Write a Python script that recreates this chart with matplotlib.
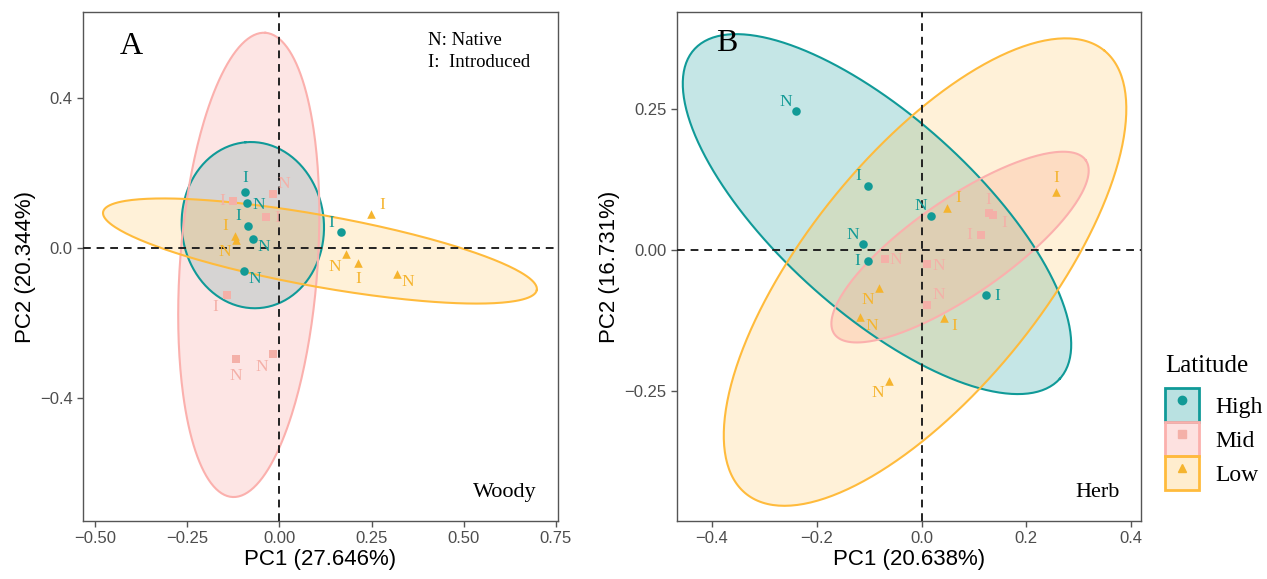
import numpy as np
import matplotlib
matplotlib.use("Agg")
import matplotlib.pyplot as plt
from matplotlib.patches import Patch
from matplotlib.lines import Line2D

# ---- data: panel A (Woody) ----
a_high_x = [-0.093, -0.087, -0.085, -0.072, -0.096, 0.166]
a_high_y = [0.149, 0.119, 0.059, 0.024, -0.061, 0.042]
a_high_lab = ['I', 'N', 'I', 'N', 'N', 'I']
a_mid_x = [-0.125, -0.017, -0.036, -0.143, -0.117, -0.017]
a_mid_y = [0.125, 0.145, 0.083, -0.125, -0.297, -0.283]
a_mid_lab = ['I', 'N', 'I', 'I', 'N', 'N']
a_low_x = [-0.120, -0.118, 0.248, 0.180, 0.214, 0.319]
a_low_y = [0.032, 0.022, 0.090, -0.017, -0.039, -0.068]
a_low_lab = ['I', 'N', 'I', 'N', 'I', 'N']

# ---- data: panel B (Herb) ----
b_high_x = [-0.240, -0.103, 0.018, -0.112, -0.102, 0.123]
b_high_y = [0.246, 0.114, 0.061, 0.010, -0.020, -0.079]
b_high_lab = ['N', 'I', 'N', 'N', 'I', 'I']
b_mid_x = [0.128, 0.137, 0.113, -0.070, 0.011, 0.011]
b_mid_y = [0.065, 0.063, 0.027, -0.016, -0.025, -0.097]
b_mid_lab = ['I', 'I', 'I', 'N', 'N', 'N']
b_low_x = [0.257, 0.048, -0.081, -0.117, 0.042, -0.063]
b_low_y = [0.103, 0.075, -0.067, -0.119, -0.120, -0.232]
b_low_lab = ['I', 'I', 'N', 'N', 'I', 'N']

# ellipses: centre, first semi-axis vector, second semi-axis vector (data units)
a_ell_high = [(-0.072, 0.061), (-0.020, 0.221), (0.192, 0.017)]
a_ell_mid = [(-0.083, -0.045), (0.045, 0.619), (0.186, -0.013)]
a_ell_low = [(0.110, -0.008), (0.588, -0.104), (-0.017, -0.094)]
b_ell_high = [(-0.085, 0.0638), (0.349, -0.292), (-0.125, -0.129)]
b_ell_mid = [(0.0735, 0.0053), (0.240, 0.154), (0.052, -0.070)]
b_ell_low = [(0.0067, -0.039), (0.342, 0.393), (0.175, -0.132)]

groups = ['High', 'Mid', 'Low']
pc_a = ['PC1 (27.646%)', 'PC2 (20.344%)']
pc_b = ['PC1 (20.638%)', 'PC2 (16.731%)']

# label placement codes (layout only)
a_high_pos = ['u', 'r', 'ul', 'dr', 'dr', 'ul']
a_mid_pos = ['l', 'ur', 'r', 'dl', 'd', 'dl']
a_low_pos = ['ul', 'dl', 'ur', 'dl', 'd', 'dr']
b_high_pos = ['ul', 'ul', 'ul', 'ul', 'l', 'r']
b_mid_pos = ['u', 'dr', 'l', 'r', 'r', 'ur']
b_low_pos = ['u', 'ur', 'dl', 'dr', 'dr', 'dl']

offs = {'u': (0, 10), 'd': (0, -12), 'l': (-8, 0), 'r': (8, -1),
        'ul': (-7, 7), 'ur': (8, 7), 'dl': (-8, -9), 'dr': (8, -6)}

edge = {'High': '#109a98', 'Mid': '#fbb0ad', 'Low': '#ffbb3c'}
pt_col = {'High': '#129a96', 'Mid': '#f4b0a8', 'Low': '#f5b42e'}
fill_alpha = {'High': 0.24, 'Mid': 0.32, 'Low': 0.2}
marker = {'High': 'o', 'Mid': 's', 'Low': '^'}

serif = 'Liberation Serif'
sans = 'Liberation Sans'


def draw_ellipse(ax, ell, g):
    (cx, cy), (ux, uy), (vx, vy) = ell
    t = np.linspace(0, 2 * np.pi, 300)
    x = cx + ux * np.cos(t) + vx * np.sin(t)
    y = cy + uy * np.cos(t) + vy * np.sin(t)
    ax.fill(x, y, facecolor=edge[g], alpha=fill_alpha[g], lw=0)
    ax.plot(x, y, color=edge[g], lw=1.5)


def draw_points(ax, xs, ys, labs, pos, g):
    ax.scatter(xs, ys, marker=marker[g], s=38, color=pt_col[g], zorder=5, lw=0)
    for x, y, lab, p in zip(xs, ys, labs, pos):
        ax.annotate(lab, (x, y), xytext=offs[p], textcoords='offset points',
                    ha='center', va='center', fontsize=12.5, family=serif,
                    color=pt_col[g], zorder=6)


def style_axes(ax, xlab, ylab):
    ax.axhline(0, color='#222222', ls=(0, (4, 3)), lw=1.4, zorder=4)
    ax.axvline(0, color='#222222', ls=(0, (4, 3)), lw=1.4, zorder=4)
    for s in ax.spines.values():
        s.set_color('#555555')
        s.set_linewidth(1.0)
    ax.tick_params(colors='#555555', labelcolor='#4d4d4d', labelsize=12,
                   length=4, width=1)
    for lab in ax.get_xticklabels() + ax.get_yticklabels():
        lab.set_family(sans)
    ax.set_xlabel(xlab, fontsize=16, family=sans, labelpad=2)
    ax.set_ylabel(ylab, fontsize=16, family=sans, labelpad=3)


fig = plt.figure(figsize=(12.67, 5.79), dpi=100)
axA = fig.add_axes([0.0655, 0.1002, 0.3749, 0.8788])
axB = fig.add_axes([0.5343, 0.1002, 0.3663, 0.8788])

# panel A
for ell, g in zip([a_ell_high, a_ell_mid, a_ell_low], groups):
    draw_ellipse(axA, ell, g)
draw_points(axA, a_high_x, a_high_y, a_high_lab, a_high_pos, 'High')
draw_points(axA, a_mid_x, a_mid_y, a_mid_lab, a_mid_pos, 'Mid')
draw_points(axA, a_low_x, a_low_y, a_low_lab, a_low_pos, 'Low')
axA.set_xlim(-0.5325, 0.7554)
axA.set_ylim(-0.728, 0.629)
axA.set_xticks([-0.5, -0.25, 0, 0.25, 0.5, 0.75])
axA.set_xticklabels(['\u22120.50', '\u22120.25', '0.00', '0.25', '0.50', '0.75'])
axA.set_yticks([-0.4, 0, 0.4])
axA.set_yticklabels(['\u22120.4', '0.0', '0.4'])
style_axes(axA, pc_a[0], pc_a[1])
axA.text(0.101, 0.933, 'A', transform=axA.transAxes, fontsize=23, family=serif,
         va='center', ha='center')
axA.text(0.726, 0.945, 'N: Native', transform=axA.transAxes, fontsize=13.5,
         family=serif, va='center', ha='left')
axA.text(0.726, 0.902, 'I:  Introduced', transform=axA.transAxes, fontsize=13.5,
         family=serif, va='center', ha='left')
axA.text(0.955, 0.055, 'Woody', transform=axA.transAxes, fontsize=16,
         family=serif, va='center', ha='right')

# panel B
for ell, g in zip([b_ell_high, b_ell_mid, b_ell_low], groups):
    draw_ellipse(axB, ell, g)
draw_points(axB, b_high_x, b_high_y, b_high_lab, b_high_pos, 'High')
draw_points(axB, b_mid_x, b_mid_y, b_mid_lab, b_mid_pos, 'Mid')
draw_points(axB, b_low_x, b_low_y, b_low_lab, b_low_pos, 'Low')
axB.set_xlim(-0.4668, 0.419)
axB.set_ylim(-0.4805, 0.422)
axB.set_xticks([-0.4, -0.2, 0, 0.2, 0.4])
axB.set_xticklabels(['\u22120.4', '\u22120.2', '0.0', '0.2', '0.4'])
axB.set_yticks([-0.25, 0, 0.25])
axB.set_yticklabels(['\u22120.25', '0.00', '0.25'])
style_axes(axB, pc_b[0], pc_b[1])
axB.text(0.108, 0.938, 'B', transform=axB.transAxes, fontsize=23, family=serif,
         va='center', ha='center')
axB.text(0.955, 0.055, 'Herb', transform=axB.transAxes, fontsize=16,
         family=serif, va='center', ha='right')

# legend
handles = []
for g in groups:
    box = Patch(facecolor=edge[g], alpha=fill_alpha[g] + 0.05, edgecolor='none')
    frame = Patch(facecolor='none', edgecolor=edge[g], lw=2)
    mk = Line2D([], [], marker=marker[g], color=pt_col[g], ls='none', ms=6)
    handles.append((box, frame, mk))
leg = fig.legend(handles, groups, loc='upper left', bbox_to_anchor=(0.9195, 0.387),
                 frameon=False, borderpad=0, borderaxespad=0,
                 handlelength=1.44, handleheight=1.84,
                 handletextpad=0.68, labelspacing=0.0, title='Latitude',
                 prop={'family': serif, 'size': 17},
                 title_fontproperties={'family': serif, 'size': 18})
leg._legend_box.align = 'left'
leg._legend_box.sep = 8

fig.savefig('out.png', dpi=100)
